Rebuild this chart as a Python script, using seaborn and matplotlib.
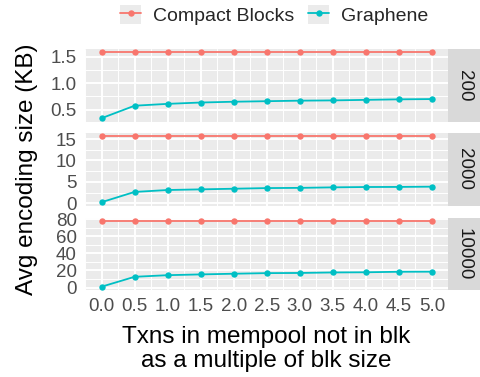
import numpy as np
import pandas as pd
import matplotlib
matplotlib.use("Agg")
import matplotlib.pyplot as plt
from matplotlib.ticker import MultipleLocator, FormatStrFormatter
from matplotlib.lines import Line2D
from matplotlib.patches import Patch
from matplotlib.legend_handler import HandlerTuple
import seaborn as sns

# ---------------- data ----------------
mempool_multiple = [0.0, 0.5, 1.0, 1.5, 2.0, 2.5, 3.0, 3.5, 4.0, 4.5, 5.0]
block_sizes = ["200", "2000", "10000"]
methods = ["Compact Blocks", "Graphene"]

compact_200 = [1.58] * 11
graphene_200 = [0.34, 0.575, 0.61, 0.635, 0.65, 0.66, 0.67, 0.675, 0.685, 0.695, 0.70]
compact_2000 = [15.65] * 11
graphene_2000 = [0.25, 2.65, 3.1, 3.25, 3.4, 3.55, 3.6, 3.72, 3.8, 3.82, 3.88]
compact_10000 = [78.2] * 11
graphene_10000 = [1.0, 12.6, 14.5, 15.4, 16.2, 16.9, 17.1, 17.7, 17.9, 18.5, 18.6]

y_major = {"200": 0.5, "2000": 5, "10000": 20}
y_fmt = {"200": "%.1f", "2000": "%d", "10000": "%d"}

series = {
    "200": (compact_200, graphene_200),
    "2000": (compact_2000, graphene_2000),
    "10000": (compact_10000, graphene_10000),
}
rows = []
for bs in block_sizes:
    cb, gr = series[bs]
    for xv, v in zip(mempool_multiple, cb):
        rows.append({"block": bs, "x": xv, "size": v, "method": methods[0]})
    for xv, v in zip(mempool_multiple, gr):
        rows.append({"block": bs, "x": xv, "size": v, "method": methods[1]})
df = pd.DataFrame(rows)

palette = {"Compact Blocks": "#F8766D", "Graphene": "#00BFC4"}

# ---------------- figure ----------------
sns.set_style("white")
plt.rcParams["font.family"] = ["Liberation Sans", "DejaVu Sans"]

W, H = 481, 377
fig = plt.figure(figsize=(W / 100, H / 100), dpi=100)

def fx(px):
    return px / W

def fy(px):
    return 1 - px / H

panel_left, panel_right = 85, 448.5
strip_right = 480
panel_tops = [49, 133, 217.5]
panel_h = 72.5

tick_fs = 13.5
for i, bs in enumerate(block_sizes):
    top = panel_tops[i]
    ax = fig.add_axes([fx(panel_left), fy(top + panel_h), fx(panel_right - panel_left), panel_h / H])
    sub = df[df["block"] == bs]
    sns.lineplot(data=sub, x="x", y="size", hue="method", palette=palette,
                 hue_order=methods, marker="o", markersize=4.6, markeredgewidth=0,
                 linewidth=1.3, legend=False, ax=ax, zorder=3)
    ax.set_facecolor("#EBEBEB")
    for s in ax.spines.values():
        s.set_visible(False)
    lo, hi = sub["size"].min(), sub["size"].max()
    pad = 0.05 * (hi - lo)
    ax.set_ylim(lo - pad, hi + pad)
    ax.set_xlim(-0.25, 5.25)
    ax.xaxis.set_major_locator(MultipleLocator(0.5))
    ax.xaxis.set_minor_locator(MultipleLocator(0.25))
    ax.yaxis.set_major_locator(MultipleLocator(y_major[bs]))
    ax.yaxis.set_minor_locator(MultipleLocator(y_major[bs] / 2))
    ax.yaxis.set_major_formatter(FormatStrFormatter(y_fmt[bs]))
    ax.xaxis.set_major_formatter(FormatStrFormatter("%.1f"))
    ax.grid(which="major", color="white", linewidth=1.4)
    ax.grid(which="minor", color="white", linewidth=0.7)
    ax.set_axisbelow(True)
    ax.tick_params(which="minor", length=0)
    ax.tick_params(which="major", length=4, width=1.3, color="#333333",
                   labelcolor="#4D4D4D", labelsize=tick_fs, pad=2)
    ax.set_xlabel("")
    ax.set_ylabel("")
    if i < 2:
        ax.tick_params(axis="x", which="major", bottom=False, labelbottom=False)

    sax = fig.add_axes([fx(panel_right), fy(top + panel_h), fx(strip_right - panel_right), panel_h / H])
    sax.set_facecolor("#D9D9D9")
    sax.set_xticks([])
    sax.set_yticks([])
    for s in sax.spines.values():
        s.set_visible(False)
    sax.text(0.5, 0.5, bs, rotation=-90, ha="center", va="center",
             fontsize=tick_fs, color="#1A1A1A", transform=sax.transAxes)

fig.text(fx(27), fy(169.5), "Avg encoding size (KB)", rotation=90,
         ha="center", va="center", fontsize=17.5, color="black")
fig.text(fx(266), fy(349), "Txns in mempool not in blk\nas a multiple of blk size",
         ha="center", va="center", fontsize=17.5, color="black",
         multialignment="center", linespacing=1.12)

handles = []
for m in methods:
    handles.append((Patch(facecolor="#EBEBEB", edgecolor="none"),
                    Line2D([], [], color=palette[m], linewidth=1.3, marker="o",
                           markersize=4.6, markeredgewidth=0)))
fig.legend(handles, methods, handler_map={tuple: HandlerTuple(ndivide=1)},
           loc="center", bbox_to_anchor=(fx(274), fy(15)), ncol=2, frameon=False,
           fontsize=14, handlelength=1.1, handleheight=1.1, handletextpad=0.6,
           columnspacing=0.7, borderpad=0)

fig.savefig("out.png", dpi=100)
